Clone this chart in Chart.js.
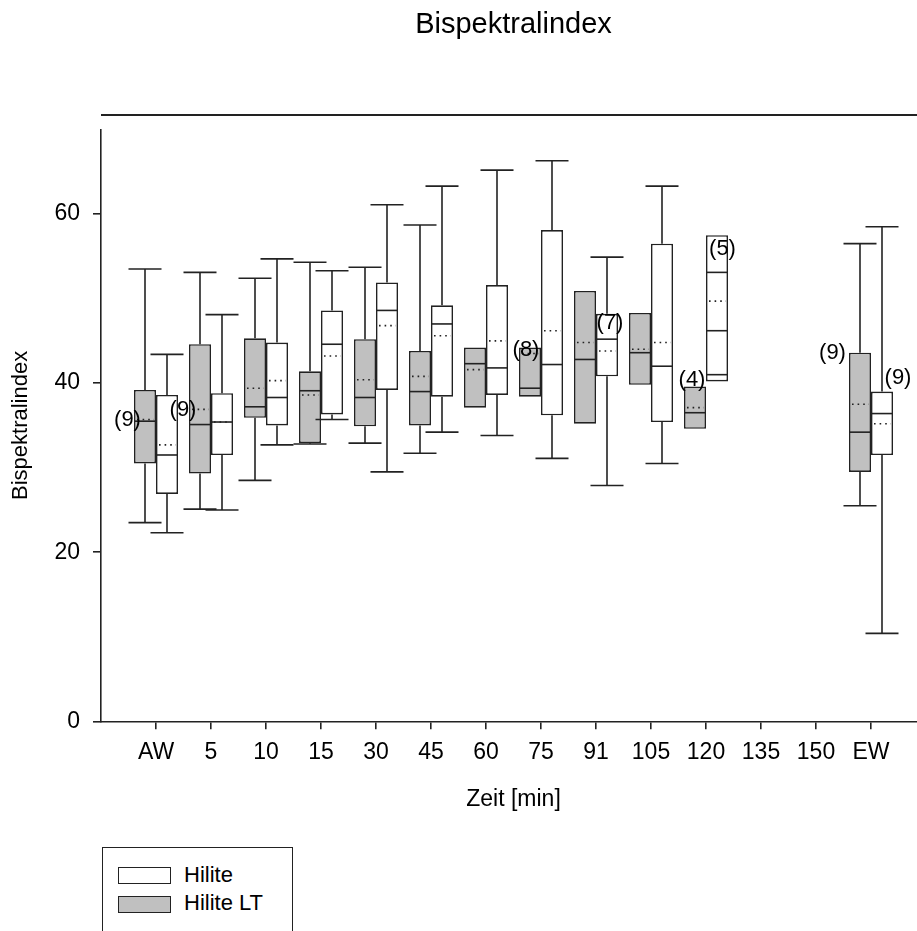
<!DOCTYPE html>
<html>
<head>
<meta charset="utf-8">
<script src="https://cdn.jsdelivr.net/npm/chart.js@4.4.1/dist/chart.umd.min.js"></script>
<style>
  html, body { margin: 0; padding: 0; background: #fff; overflow: hidden; width: 917px; height: 931px; }
  #wrap { position: absolute; left: 0; top: 0; width: 940px; height: 830px; }
  #legend { position: absolute; left: 102px; top: 847px; width: 191px; height: 120px;
            border: 1.6px solid #222; box-sizing: border-box; }
  .sw { position: absolute; left: 118px; width: 53px; height: 17px; border: 1.6px solid #222; box-sizing: border-box; }
  .lt { position: absolute; left: 184px; font: 22px "Liberation Sans", Arial, sans-serif; line-height: 22px; color: #000; white-space: nowrap; }
</style>
</head>
<body>
<div id="wrap"><canvas id="chart" width="940" height="830"></canvas></div>
<div id="legend"></div>
<div class="sw" style="top:867px;background:#fff"></div>
<div class="lt" style="top:864px">Hilite</div>
<div class="sw" style="top:896px;background:#c0c0c0"></div>
<div class="lt" style="top:892px">Hilite LT</div>
<script>
// time points (x axis)
var categories = ['AW', '5', '10', '15', '30', '45', '60', '75', '91', '105', '120', '135', '150', 'EW'];
var yTicks = [0, 20, 40, 60];

// Hilite LT (grey boxes)
var ltLow    = [23.5, 25.1, 28.5, 32.8, 32.9, 31.7, null, null, null, null, null, null, null, 25.5];
var ltQ1     = [30.5, 29.3, 35.9, 32.9, 34.9, 35.0, 37.1, 38.4, 35.2, 39.8, 34.6, null, null, 29.5];
var ltMedian = [35.5, 35.1, 37.2, 39.1, 38.3, 39.0, 42.3, 39.4, 42.8, 43.6, 36.5, null, null, 34.2];
var ltMean   = [35.7, 36.9, 39.4, 38.6, 40.4, 40.8, 41.6, 43.5, 44.8, 44.0, 37.1, null, null, 37.5];
var ltQ3     = [39.2, 44.6, 45.3, 41.4, 45.2, 43.8, 44.2, 44.2, 50.9, 48.3, 39.6, null, null, 43.6];
var ltHigh   = [53.5, 53.1, 52.4, 54.3, 53.7, 58.7, null, null, null, null, null, null, null, 56.5];

// Hilite (white boxes)
var hLow    = [22.3, 25.0, 32.7, 35.7, 29.5, 34.2, 33.8, 31.1, 27.9, 30.5, 41.0, null, null, 10.4];
var hQ1     = [26.9, 31.5, 35.0, 36.3, 39.2, 38.4, 38.6, 36.2, 40.8, 35.4, 40.2, null, null, 31.5];
var hMedian = [31.5, 35.4, 38.3, 44.6, 48.6, 47.0, 41.8, 42.2, 45.2, 42.0, 46.2, null, null, 36.4];
var hMean   = [32.7, 35.4, 40.3, 43.2, 46.8, 45.6, 45.0, 46.2, 43.8, 44.8, 49.7, null, null, 35.2];
var hQ3     = [38.6, 38.8, 44.8, 48.6, 51.9, 49.2, 51.6, 58.1, 48.2, 56.5, 57.5, null, null, 39.0];
var hHigh   = [43.4, 48.1, 54.7, 53.3, 61.1, 63.3, 65.2, 66.3, 54.9, 63.3, 53.1, null, null, 58.5];

// sample size notes
var countText     = ['(9)', '(9)', '(8)', '(7)', '(4)', '(5)', '(9)', '(9)'];
var countCategory = ['AW', '5', '75', '91', '120', '120', 'EW', 'EW'];
var countValue    = [35.6, 36.8, 43.9, 47.1, 40.4, 55.9, 43.6, 40.6];

var FONT = '"Liberation Sans", Arial, sans-serif';
var INK = '#222';

// blank slot on each side so the axis runs past the first and last box
var axisLabels = [''].concat(categories, ['']);
function pad(a) { return [null].concat(a, [null]); }
function ranges(q1, q3) { return pad(q1.map(function (v, i) { return v == null ? null : [v, q3[i]]; })); }

// pixel shift of each count note from its tick
var countShift = [-28.5, -28, -15, 14, -14, 16.5, -38.5, 27];

var boxExtras = {
  id: 'boxExtras',
  afterDatasetsDraw: function (chart) {
    var ctx = chart.ctx, ys = chart.scales.y, xs = chart.scales.x, area = chart.chartArea;
    ctx.save();
    ctx.strokeStyle = INK;

    // line above the plot
    ctx.beginPath();
    ctx.moveTo(area.left, area.top - 14.5);
    ctx.lineTo(chart.width, area.top - 14.5);
    ctx.lineWidth = 2;
    ctx.stroke();
    ctx.lineWidth = 1.6;

    chart.data.datasets.forEach(function (ds, di) {
      var meta = chart.getDatasetMeta(di);
      meta.data.forEach(function (bar, i) {
        if (ds.data[i] == null) return;
        var cx = bar.x, w = bar.width, l = cx - w / 2, r = cx + w / 2;
        var q1 = ds.data[i][0], q3 = ds.data[i][1];
        var pq1 = ys.getPixelForValue(q1), pq3 = ys.getPixelForValue(q3);

        function hline(p, x0, x1) { ctx.beginPath(); ctx.moveTo(x0, p); ctx.lineTo(x1, p); ctx.stroke(); }
        function whisker(v, edge, outside) {
          if (v == null) return;
          var p = ys.getPixelForValue(v);
          if (outside) {
            ctx.beginPath(); ctx.moveTo(cx, edge); ctx.lineTo(cx, p); ctx.stroke();
            hline(p, cx - w * 0.75, cx + w * 0.75);
          } else {
            hline(p, l, r);
          }
        }
        var hi = ds.hi[i], lo = ds.lo[i];
        whisker(hi, pq3, hi != null && hi >= q3);
        whisker(lo, pq1, lo != null && lo <= q1);

        // median
        if (ds.med[i] != null) hline(ys.getPixelForValue(ds.med[i]), l, r);

        // mean, dotted
        if (ds.mean[i] != null) {
          ctx.save();
          ctx.setLineDash([1.6, 4]);
          hline(ys.getPixelForValue(ds.mean[i]), l + 3, r - 2);
          ctx.restore();
        }
      });
    });

    // sample sizes
    ctx.fillStyle = '#000';
    ctx.font = '22px ' + FONT;
    ctx.textAlign = 'center';
    ctx.textBaseline = 'middle';
    countText.forEach(function (t, k) {
      var px = xs.getPixelForValue(axisLabels.indexOf(countCategory[k])) + countShift[k];
      ctx.fillText(t, px, ys.getPixelForValue(countValue[k]));
    });
    ctx.restore();
  }
};

var ctx = document.getElementById('chart').getContext('2d');
var chart = new Chart(ctx, {
  type: 'bar',
  data: {
    labels: axisLabels,
    datasets: [
      {
        label: 'Hilite LT',
        data: ranges(ltQ1, ltQ3),
        lo: pad(ltLow), med: pad(ltMedian), mean: pad(ltMean), hi: pad(ltHigh),
        backgroundColor: '#c0c0c0',
        borderColor: INK,
        borderWidth: 1.6,
        borderSkipped: false
      },
      {
        label: 'Hilite',
        data: ranges(hQ1, hQ3),
        lo: pad(hLow), med: pad(hMedian), mean: pad(hMean), hi: pad(hHigh),
        backgroundColor: '#ffffff',
        borderColor: INK,
        borderWidth: 1.6,
        borderSkipped: false
      }
    ]
  },
  options: {
    responsive: false,
    animation: false,
    events: [],
    categoryPercentage: 0.8,
    barPercentage: 1.0,
    layout: { padding: { left: 0, right: 14, top: 0, bottom: 0 } },
    plugins: {
      legend: { display: false },
      tooltip: { enabled: false },
      title: {
        display: true,
        text: 'Bispektralindex',
        fullSize: false,
        color: '#000',
        font: { family: FONT, size: 29, weight: 'normal' },
        padding: { top: 7.6, bottom: 87.1 }
      }
    },
    scales: {
      x: {
        type: 'category',
        offset: false,
        afterFit: function (s) { s.height = 108.7; },
        border: { color: INK, width: 1.6 },
        grid: {
          offset: false,
          drawOnChartArea: false,
          tickLength: 8,
          lineWidth: 1.6,
          color: function (c) { return axisLabels[c.index] === '' ? 'rgba(0,0,0,0)' : INK; }
        },
        ticks: { autoSkip: false, maxRotation: 0, color: '#000', padding: 10, font: { family: FONT, size: 23 } },
        title: { display: true, text: 'Zeit [min]', color: '#000', font: { family: FONT, size: 23 }, padding: { top: 0, bottom: 17 } }
      },
      y: {
        min: 0,
        max: 70,
        afterFit: function (s) { s.width = 101; },
        afterBuildTicks: function (s) { s.ticks = yTicks.map(function (v) { return { value: v }; }); },
        border: { color: INK, width: 1.6 },
        grid: { drawOnChartArea: false, tickLength: 8, lineWidth: 1.6, color: INK },
        ticks: { color: '#000', padding: 13, font: { family: FONT, size: 23 } },
        title: { display: true, text: 'Bispektralindex', color: '#000', font: { family: FONT, size: 22 }, padding: { top: 8, bottom: 0 } }
      }
    }
  },
  plugins: [boxExtras]
});
</script>
</body>
</html>
